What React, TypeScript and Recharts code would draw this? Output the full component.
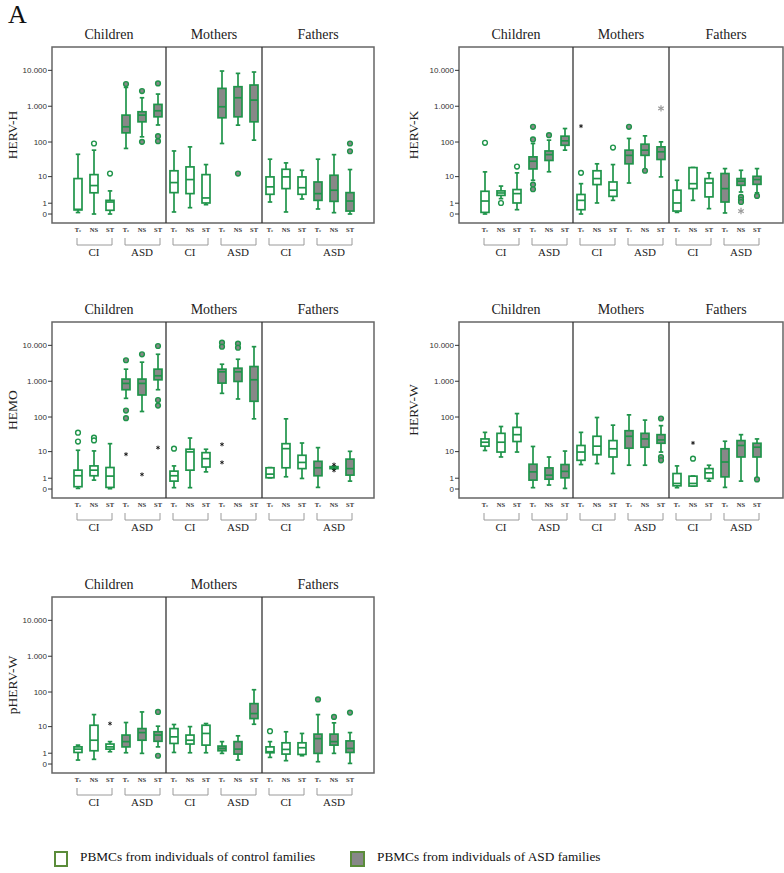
import React from 'react';
import { ComposedChart, Bar, Scatter, XAxis, YAxis, ReferenceArea, ReferenceLine } from 'recharts';

const GROUPS = ['Children', 'Mothers', 'Fathers'];
const COHORTS = ['CI', 'ASD'];
const CONDITIONS = ['Te', 'NS', 'ST'];
const Y_TICK_VALUES = [0, 1, 10, 100, 1000, 10000];
const Y_TICK_LABELS = ['0', '1', '10', '100', '1.000', '10.000'];
const LEGEND_LABELS = ['PBMCs from individuals of control families', 'PBMCs from individuals of ASD families'];

// each row: [whisker low, Q1, median, Q3, whisker high]; order: Children CI Te/NS/ST, Children ASD Te/NS/ST, Mothers..., Fathers...
const HERV_H_BOXES = [
  [0.1, 0.3, 0.35, 8.7, 45], [0, 2.9, 5.2, 11.5, 59], [0, 0.27, 1.16, 1.4, 3.4],
  [66, 181, 267, 566, 3350], [140, 368, 566, 702, 1725], [300, 508, 748, 1125, 2185],
  [0.14, 2.94, 6.5, 15, 56], [0.5, 2.7, 8.1, 19.5, 73], [0.82, 1.03, 1.8, 11.5, 22.8],
  [91, 477, 967, 3145, 9570], [297, 508, 1725, 3500, 8240], [113, 368, 1485, 3900, 8980],
  [1.16, 2.54, 4.7, 9.8, 32.6], [0.14, 4.1, 9.8, 16.6, 25.5], [1.62, 2.54, 4.4, 9.8, 15.5],
  [0.38, 1.4, 2.7, 6.8, 32.6], [0.09, 1.25, 3.6, 11, 44], [0, 0.21, 1.3, 2.94, 16.3],
];
const HERV_H_OUTLIERS: [number, number, string][] = [
  [1, 91, 'o'], [2, 12.4, 'o'], [3, 4150, 'o'], [4, 2650, 'o'], [4, 101, 'o'],
  [5, 4330, 'o'], [5, 146, 'o'], [5, 106, 'o'], [10, 12.4, 'o'], [17, 91, 'o'], [17, 55, 'o'],
];

const HERV_K_BOXES = [
  [0, 0.11, 1.3, 3.3, 13.9], [1.68, 2.3, 2.85, 3.4, 5.0], [0.32, 1.03, 2.7, 3.8, 13],
  [7.7, 17, 28.5, 38, 91], [14, 30, 44, 56, 113], [59, 81, 108, 146, 239],
  [0, 0.32, 1.4, 2.5, 6], [1.03, 5.6, 8.7, 15, 24], [1.4, 2.1, 3.6, 6.8, 22.8],
  [6.3, 24, 42, 59, 126], [15.5, 42, 59, 87, 149], [9.8, 32, 53, 73, 101],
  [0.11, 0.21, 1.03, 3.6, 7.7], [1.4, 4.1, 6, 18.6, 18.7], [0.41, 2.0, 6.3, 8.7, 13],
  [0.07, 1.16, 4.1, 12.4, 17.4], [3.1, 5.3, 7.2, 8.7, 15.5], [2.9, 5.7, 8.1, 10.2, 17.4],
];
const HERV_K_OUTLIERS: [number, number, string][] = [
  [0, 95, 'o'], [1, 1.03, 'o'], [2, 20, 'o'], [3, 267, 'o'], [3, 118, 'o'], [3, 5.6, 'o'], [3, 3.9, 'o'],
  [4, 156, 'o'], [6, 279, '*'], [6, 13, 'o'], [8, 70, 'o'], [9, 267, 'o'], [10, 15, 'o'], [11, 870, 'g'],
  [16, 2.0, 'o'], [16, 1.5, 'o'], [16, 1.16, 'o'], [16, 0.21, 'g'], [17, 2.2, 'o'],
];

const HEMO_BOXES = [
  [0.04, 0.16, 1.34, 2.35, 11], [0.77, 1.34, 2.35, 3.4, 10.5], [0.02, 0.11, 1.29, 2.97, 17.3],
  [334, 581, 870, 1150, 2170], [143, 414, 870, 1150, 3400], [581, 1098, 1420, 2170, 5640],
  [0.09, 0.66, 1.34, 2.15, 3.4], [0.09, 2.35, 9.8, 11.8, 25.3], [2.0, 3.1, 6.0, 9.3, 11.8],
  [460, 888, 1830, 2170, 2980], [320, 988, 1830, 2310, 4100], [89, 276, 1100, 2570, 9180],
  [1.05, 1.06, 1.6, 2.9, 2.95], [1.19, 2.9, 12.3, 17.3, 89], [0.97, 2.7, 4.5, 7.7, 18.1],
  [0.11, 1.34, 2.9, 4.9, 13.2], [2.6, 2.7, 2.95, 3.2, 3.3], [0.66, 1.44, 2.7, 5.8, 10.2],
];
const HEMO_OUTLIERS: [number, number, string][] = [
  [0, 36, 'o'], [0, 20, 'o'], [1, 25.8, 'o'], [1, 21.6, 'o'], [3, 3850, 'o'], [3, 152, 'o'], [3, 93, 'o'],
  [3, 8.3, '*'], [4, 5640, 'o'], [4, 1.55, '*'], [5, 9590, 'o'], [5, 300, 'o'], [5, 209, 'o'], [5, 13.2, '*'],
  [6, 12.3, 'o'], [9, 11850, 'o'], [9, 9180, 'o'], [9, 16.5, '*'], [9, 4.5, '*'], [10, 11100, 'o'],
  [10, 8600, 'o'], [16, 3.8, '*'], [16, 2.3, '*'],
];

const HERV_W_BOXES = [
  [10.8, 14.6, 19.1, 23.8, 36.8], [6.8, 9.7, 19.1, 34.5, 54], [9.7, 20, 31.6, 51, 125],
  [0.09, 0.77, 2.0, 3.9, 14.3], [0.29, 0.88, 1.43, 2.87, 6.8], [0.04, 1.05, 2.1, 3.8, 10.4],
  [3.8, 5.3, 9.7, 15.3, 36.8], [4.1, 8.0, 14.6, 28.4, 97], [1.7, 6.8, 12.2, 21.3, 59],
  [3.6, 12.7, 28.4, 41, 115], [3.6, 13.6, 23.8, 34.5, 82], [9.7, 17.8, 22.3, 31.6, 57],
  [0.09, 0.23, 0.43, 1.7, 3.4], [0.2, 0.21, 0.43, 1.28, 1.3], [0.66, 0.97, 1.82, 2.7, 3.6],
  [0.11, 1.18, 4.65, 12.2, 20.4], [0.66, 6.8, 15.3, 21.3, 31.6], [1.0, 6.8, 13.6, 17.8, 23.8],
];
const HERV_W_OUTLIERS: [number, number, string][] = [
  [11, 91, 'o'], [11, 6.8, 'o'], [11, 5.3, 'o'], [13, 18.2, '*'], [13, 6.0, 'o'], [17, 0.85, 'o'],
];

const PHERV_W_BOXES = [
  [0.29, 1.1, 1.6, 2.0, 2.36], [0.35, 1.34, 3.6, 11, 22.8], [1.2, 1.6, 2.0, 2.6, 3.2],
  [1.06, 2.0, 3.2, 5.4, 13.3], [0.98, 3.6, 6.5, 8.7, 27.2], [2.0, 3.3, 5.4, 6.9, 10.3],
  [1.1, 2.74, 4.7, 8.7, 11.6], [1.06, 2.6, 3.6, 5.4, 10], [1.06, 2.36, 6.1, 11, 12.4],
  [0.98, 1.34, 1.72, 2.16, 3.2], [0.29, 0.89, 1.6, 3.2, 5.1], [11.8, 17.4, 24.4, 47, 116],
  [0.53, 1.06, 1.2, 2.0, 3.2], [0.24, 0.89, 1.55, 2.9, 6.9], [0.7, 0.85, 1.84, 2.9, 6.1],
  [0.16, 0.98, 4.1, 5.8, 22.8], [0.98, 2.36, 3.2, 5.8, 13], [0.04, 1.1, 1.72, 3.4, 6.5],
];
const PHERV_W_OUTLIERS: [number, number, string][] = [
  [2, 12.4, '*'], [5, 27.2, 'o'], [5, 0.7, 'o'], [12, 7.2, 'o'], [15, 62, 'o'], [16, 19.5, 'o'], [17, 26, 'o'],
];

const SERIF = '"Liberation Serif", "DejaVu Serif", "Times New Roman", serif';
const SANS = '"Liberation Sans", Arial, sans-serif';
const GREEN = '#1f944a';
const BOX_GRAY = '#888888';
const Y_DOMAIN: [number, number] = [-0.25, 4.65];
const SLOT = 16;

const T = (v: number) => Math.log10(v + 1);
const Y_TICKS = Y_TICK_VALUES.map(T);

function buildRows(boxes: number[][]) {
  return boxes.map((b, i) => ({
    pos: i,
    range: [T(b[0]), T(b[4])],
    lo: T(b[0]), q1: T(b[1]), med: T(b[2]), q3: T(b[3]), hi: T(b[4]),
    asd: Math.floor((i % 6) / 3) === 1,
  }));
}

function BoxShape(props: any) {
  const { x, y, width, height, payload } = props;
  if (!payload || height == null) return null;
  const { lo, hi, q1, q3, med, asd } = payload;
  const px = (t: number) => y + (height * (hi - t)) / (hi - lo);
  const cx = x + width / 2;
  const cap = width * 0.28;
  return (
    <g stroke={GREEN} strokeWidth={1.7} fill="none">
      <line x1={cx} x2={cx} y1={px(hi)} y2={px(q3)} />
      <line x1={cx} x2={cx} y1={px(q1)} y2={px(lo)} />
      <line x1={cx - cap} x2={cx + cap} y1={px(hi)} y2={px(hi)} />
      <line x1={cx - cap} x2={cx + cap} y1={px(lo)} y2={px(lo)} />
      <rect x={x} y={px(q3)} width={width} height={Math.max(0.5, px(q1) - px(q3))} fill={asd ? BOX_GRAY : '#fff'} />
      <line x1={x} x2={x + width} y1={px(med)} y2={px(med)} />
    </g>
  );
}

function OutlierShape(props: any) {
  const { cx, cy, payload } = props;
  if (cx == null || cy == null) return null;
  if (payload.kind === 'o') {
    return <circle cx={cx} cy={cy} r={2.4} fill={payload.asd ? BOX_GRAY : '#fff'} stroke={GREEN} strokeWidth={1.4} />;
  }
  const color = payload.kind === 'g' ? '#9a9a9a' : '#111';
  const s = payload.kind === 'g' ? 3.2 : 2;
  return (
    <g stroke={color} strokeWidth={payload.kind === 'g' ? 1.2 : 0.9}>
      <line x1={cx} y1={cy - s} x2={cx} y2={cy + s} />
      <line x1={cx - s * 0.87} y1={cy - s * 0.5} x2={cx + s * 0.87} y2={cy + s * 0.5} />
      <line x1={cx - s * 0.87} y1={cy + s * 0.5} x2={cx + s * 0.87} y2={cy - s * 0.5} />
    </g>
  );
}

function XTick(props: any) {
  const { x, y, payload } = props;
  const i = payload.value as number;
  const cond = i % 3;
  const cohort = Math.floor((i % 6) / 3);
  return (
    <g>
      <text x={x} y={y + 9} textAnchor="middle" fontSize={6.5} fontWeight="bold" fill="#333" fontFamily={SERIF}>
        {cond === 0 ? (
          <>
            T<tspan fontSize={4.5}>e</tspan>
          </>
        ) : (
          CONDITIONS[cond]
        )}
      </text>
      {cond === 1 && (
        <g>
          <path d={`M${x - SLOT - 1},${y + 15} V${y + 22} H${x + SLOT + 2} V${y + 15}`} stroke="#9a9a9a" strokeWidth={1} fill="none" />
          <text x={x} y={y + 33} textAnchor="middle" fontSize={11} fill="#222" fontFamily={SERIF}>
            {COHORTS[cohort]}
          </text>
        </g>
      )}
    </g>
  );
}

type PanelProps = {
  name: string;
  boxes: number[][];
  outliers: [number, number, string][];
  left: number;
  top: number;
  width: number;
  marginLeft: number;
  marginRight: number;
  labelX: number;
  xMax: number;
};

function Panel({ name, boxes, outliers, left, top, width, marginLeft, marginRight, labelX, xMax }: PanelProps) {
  const rows = buildRows(boxes);
  const pts = outliers.map(([pos, v, kind]) => ({ pos, t: T(v), kind, asd: Math.floor((pos % 6) / 3) === 1 }));
  const xDomain: [number, number] = [-1.625, xMax];
  const bounds = [xDomain[0], 5.5, 11.5, xDomain[1]];
  const findLabel = (v: number) => {
    const k = Y_TICKS.findIndex((t) => Math.abs(t - v) < 1e-6);
    return k >= 0 ? Y_TICK_LABELS[k] : '';
  };
  return (
    <div style={{ position: 'absolute', left, top }}>
      <ComposedChart width={width} height={245} data={rows} margin={{ top: 27, right: marginRight, bottom: 2, left: marginLeft }}>
        <XAxis
          type="number"
          dataKey="pos"
          domain={xDomain}
          ticks={rows.map((r) => r.pos)}
          interval={0}
          allowDataOverflow
          tick={(p: any) => <XTick {...p} />}
          tickLine={false}
          axisLine={false}
          tickSize={0}
          tickMargin={0}
          height={40}
        />
        <YAxis
          type="number"
          domain={Y_DOMAIN}
          ticks={Y_TICKS}
          allowDataOverflow
          interval={0}
          width={48}
          axisLine={false}
          tickSize={4}
          tickMargin={1}
          tickLine={{ stroke: '#333' }}
          tick={{ fontSize: 8, fill: '#333', fontFamily: SANS }}
          tickFormatter={(v: number) => findLabel(v)}
          label={(lp: any) => {
            const vb = lp.viewBox || {};
            const cy = (vb.y || 0) + (vb.height || 0) / 2;
            return (
              <text
                x={labelX}
                y={cy}
                transform={`rotate(-90 ${labelX} ${cy})`}
                textAnchor="middle"
                dominantBaseline="central"
                fontSize={13.5}
                fill="#222"
                fontFamily={SERIF}
              >
                {name}
              </text>
            );
          }}
        />
        {GROUPS.map((g, k) => (
          <ReferenceArea
            key={g}
            x1={bounds[k]}
            x2={bounds[k + 1]}
            y1={Y_DOMAIN[0]}
            y2={Y_DOMAIN[1]}
            fill="none"
            stroke="none"
            label={{ value: g, position: 'top', offset: 8, fontSize: 14, fill: '#222', fontFamily: SERIF }}
          />
        ))}
        <ReferenceLine x={5.5} stroke="#333" strokeWidth={1.3} />
        <ReferenceLine x={11.5} stroke="#333" strokeWidth={1.3} />
        <ReferenceArea x1={xDomain[0]} x2={xDomain[1]} y1={Y_DOMAIN[0]} y2={Y_DOMAIN[1]} fill="none" stroke="#666" strokeWidth={1.5} />
        <Bar dataKey="range" barSize={8} isAnimationActive={false} shape={(p: any) => <BoxShape {...p} />} />
        <Scatter data={pts} dataKey="t" isAnimationActive={false} shape={(p: any) => <OutlierShape {...p} />} />
      </ComposedChart>
    </div>
  );
}

const LEFT = { left: 0, width: 384, marginLeft: 4, marginRight: 10, labelX: 12, xMax: 18.5 };
const RIGHT = { left: 392, width: 392, marginLeft: 19, marginRight: 1, labelX: 21, xMax: 18.625 };

export default function App() {
  return (
    <div style={{ position: 'absolute', left: 0, top: 0, width: 784, height: 873, background: '#fff', overflow: 'hidden' }}>
      <div style={{ position: 'absolute', left: 8, top: 0, fontSize: 26, fontFamily: SERIF, color: '#111' }}>A</div>
      <Panel name="HERV-H" boxes={HERV_H_BOXES} outliers={HERV_H_OUTLIERS} top={20} {...LEFT} />
      <Panel name="HERV-K" boxes={HERV_K_BOXES} outliers={HERV_K_OUTLIERS} top={20} {...RIGHT} />
      <Panel name="HEMO" boxes={HEMO_BOXES} outliers={HEMO_OUTLIERS} top={295} {...LEFT} />
      <Panel name="HERV-W" boxes={HERV_W_BOXES} outliers={HERV_W_OUTLIERS} top={295} {...RIGHT} />
      <Panel name="pHERV-W" boxes={PHERV_W_BOXES} outliers={PHERV_W_OUTLIERS} top={570} {...LEFT} />
      <div style={{ position: 'absolute', left: 54, top: 851, width: 14, height: 16, border: '2px solid #5b8c3a', background: '#fff', boxSizing: 'border-box' }} />
      <div style={{ position: 'absolute', left: 80, top: 849, fontSize: 13.3, fontFamily: SERIF, color: '#111', whiteSpace: 'nowrap' }}>{LEGEND_LABELS[0]}</div>
      <div style={{ position: 'absolute', left: 350, top: 851, width: 15, height: 16, border: '2px solid #5b8c3a', background: '#888', boxSizing: 'border-box' }} />
      <div style={{ position: 'absolute', left: 377, top: 849, fontSize: 13.3, fontFamily: SERIF, color: '#111', whiteSpace: 'nowrap' }}>{LEGEND_LABELS[1]}</div>
    </div>
  );
}
